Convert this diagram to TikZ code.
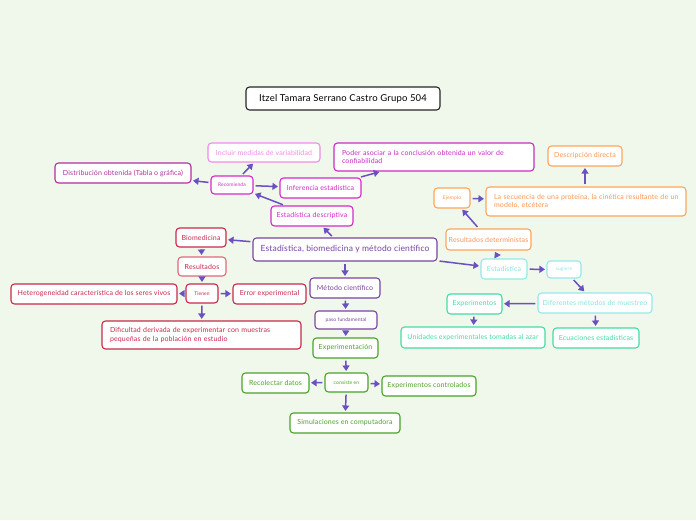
\documentclass[tikz,border=0pt]{standalone}
\usepackage{fontspec}
\setmainfont{Lato}[LetterSpace=2]
\usetikzlibrary{arrows.meta}
\definecolor{bgc}{HTML}{EFF8EA}
\definecolor{arrc}{HTML}{6A50C0}
\definecolor{pinkl}{HTML}{F08CE8}
\definecolor{magd}{HTML}{B0309A}
\definecolor{mag}{HTML}{D628C8}
\definecolor{orng}{HTML}{FFA55A}
\definecolor{purp}{HTML}{7A44A0}
\definecolor{redd}{HTML}{C8284A}
\definecolor{redl}{HTML}{E0687A}
\definecolor{grn}{HTML}{48A428}
\definecolor{cyl}{HTML}{94E8EC}
\definecolor{teal}{HTML}{44DCA4}
\begin{document}
\begin{tikzpicture}[x=1pt,y=-1pt,
  box/.style={draw,fill=white,rounded corners=3.5pt,line width=1.1pt,inner sep=2pt,
    font=\fontsize{7}{8.5}\selectfont},
  tiny/.style={font=\fontsize{5}{6}\selectfont},
  para/.style={align=left,text width=#1,inner xsep=8pt,inner ysep=3pt},
  arr/.style={arrc,line width=1.5pt,-{Triangle[width=7pt,length=5.5pt]},shorten >=1.5pt,shorten <=2pt}]
\useasboundingbox[fill=bgc] (0,0) rectangle (696,520);
% title
\node[box,draw=black!85,minimum width=194pt,minimum height=23pt,font=\fontsize{9.5}{11}\selectfont] (title) at (343,98.5) {Itzel Tamara Serrano Castro Grupo 504};
% centre
\node[box,draw=purp,text=purp,minimum width=184pt,minimum height=23pt,font=\fontsize{8.5}{10}\selectfont] (main) at (345,249.5) {Estadística, biomedicina y método científico};
% magenta part
\node[box,draw=pinkl,text=pinkl,minimum width=112pt,minimum height=19pt] (incl) at (264,152.5) {Incluir medidas de variabilidad};
\node[box,draw=magd,text=magd,minimum width=136pt,minimum height=20pt] (dist) at (123,173) {Distribución obtenida (Tabla o gráfica)};
\node[box,tiny,draw=mag,text=mag,minimum width=42pt,minimum height=18pt] (recom) at (232,185) {Recomienda};
\node[box,draw=mag,text=mag,minimum width=81pt,minimum height=20pt] (infer) at (320.5,188) {Inferencia estadística};
\node[box,draw=mag,text=mag,minimum width=82pt,minimum height=20pt] (desc) at (312,216) {Estadística descriptiva};
\node[box,para=184pt,draw=mag!85!purp,text=mag!85!purp,minimum height=28pt] (poder) at (434,157) {Poder asociar a la conclusión obtenida un valor de\\ confiabilidad};
% orange part
\node[box,draw=orng,text=orng!90!red,minimum width=74pt,minimum height=20pt] (dirc) at (585,156) {Descripción directa};
\node[box,tiny,draw=orng,text=orng!90!red,minimum width=36pt,minimum height=20pt] (ejem) at (452,198) {Ejemplo};
\node[box,para=192pt,inner xsep=4pt,draw=orng,text=orng!90!red,minimum height=29pt] (secu) at (586,201.5) {\hspace*{4pt}La secuencia de una proteína, la cinética resultante de un\\ \hspace*{4pt}modelo, etcétera};
\node[box,draw=orng,text=orng!90!red,minimum width=85pt,minimum height=21pt] (resdet) at (488.5,239.5) {Resultados deterministas};
% red part
\node[box,draw=redd,text=redd,minimum width=50pt,minimum height=19pt] (biom) at (201,237.5) {Biomedicina};
\node[box,draw=redl,text=redd,minimum width=48pt,minimum height=19pt] (resul) at (202,266.5) {Resultados};
\node[box,tiny,draw=redd,text=redd,minimum width=32pt,minimum height=19pt] (tien) at (202,293.5) {Tienen};
\node[box,draw=redd,text=redd,minimum width=166pt,minimum height=20pt] (hetero) at (94,294) {Heterogeneidad característica de los seres vivos};
\node[box,draw=redd,text=redd,minimum width=73pt,minimum height=20pt] (error) at (269.5,294) {Error experimental};
\node[box,para=183pt,draw=redd,text=redd,minimum height=28pt] (dific) at (201.5,335) {Dificultad derivada de experimentar con muestras\\ pequeñas de la población en estudio};
% method chain
\node[box,draw=purp,text=purp,minimum width=70pt,minimum height=20pt] (metodo) at (345,288) {Método científico};
\node[box,tiny,draw=purp,text=purp,minimum width=62pt,minimum height=18pt] (paso) at (346,320) {paso fundamental};
\node[box,draw=grn,text=grn,minimum width=65pt,minimum height=20pt] (exper) at (345.5,348) {Experimentación};
\node[box,tiny,draw=grn,text=grn,minimum width=43pt,minimum height=19pt] (consi) at (346.5,382.5) {consiste en};
\node[box,draw=grn,text=grn,minimum width=67pt,minimum height=20pt] (recol) at (275.5,383) {Recolectar datos};
\node[box,draw=grn,text=grn,minimum width=94pt,minimum height=20pt] (excon) at (429,386) {Experimentos controlados};
\node[box,draw=grn,text=grn,minimum width=110pt,minimum height=20pt] (simul) at (345,423) {Simulaciones en computadora};
% cyan part
\node[box,draw=cyl,text=cyl!80!teal,minimum width=46pt,minimum height=20pt] (estad) at (504,269) {Estadística};
\node[box,tiny,draw=cyl,text=cyl,minimum width=34pt,minimum height=17pt] (sugi) at (564,269.5) {sugiere};
\node[box,draw=cyl,text=cyl!80!teal,minimum width=114pt,minimum height=20pt] (difer) at (595,303) {Diferentes métodos de muestreo};
\node[box,draw=teal,text=teal,minimum width=55pt,minimum height=20pt] (expe) at (474.5,304) {Experimentos};
\node[box,draw=teal,text=teal,minimum width=144pt,minimum height=21pt] (unid) at (473,337.5) {Unidades experimentales tomadas al azar};
\node[box,draw=teal,text=teal,minimum width=86pt,minimum height=20pt] (ecua) at (596,338) {Ecuaciones estadísticas};
% connectors
\foreach \a/\b in {recom/incl,recom/dist,recom/infer,desc/recom,infer/poder,
    main/desc,main/biom,main/metodo,main/estad,
    biom/resul,resul/tien,tien/hetero,tien/error,tien/dific,
    metodo/paso,paso/exper,exper/consi,consi/recol,consi/excon,consi/simul,
    estad/resdet,resdet/ejem,ejem/secu,estad/sugi,sugi/difer,difer/expe,expe/unid,difer/ecua}
  \draw[arr] (\a) -- (\b);
\draw[arr] (secu.north -| dirc) -- (dirc);
\end{tikzpicture}
\end{document}
